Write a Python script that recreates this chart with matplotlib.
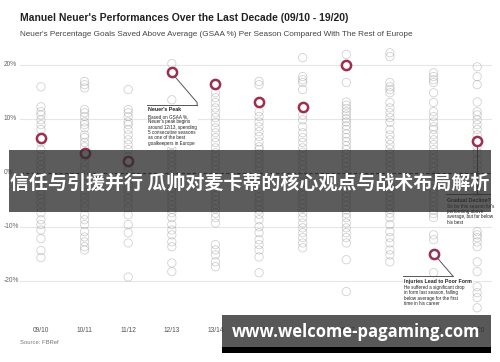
import numpy as np
import matplotlib
matplotlib.use("Agg")
import matplotlib.pyplot as plt
from matplotlib.patches import Rectangle
from matplotlib.transforms import blended_transform_factory

seasons = ["09/10", "10/11", "11/12", "12/13", "13/14", "14/15",
           "15/16", "16/17", "17/18", "18/19", "19/20"]

others_0910 = [15.9, 12.2, 11.3, 10.7, 9.8, 8.9, 8.0, 5.6, 4.3, 3.0, 2.2, 1.4, 0.6, -0.2, -1.0, -1.8,
               -2.5, -3.3, -4.0, -4.8, -5.6, -6.5, -7.4, -8.7, -9.6, -10.6, -12.2, -14.4, -15.7]
others_1011 = [16.9, 16.3, 15.7, 11.7, 11.1, 10.4, 9.4, 8.9, 8.3, 7.0, 6.5, 5.6, 4.8, 3.0, 2.1, 1.2,
               0.4, -0.5, -1.4, -2.2, -3.1, -3.9, -4.7, -5.6, -6.5, -7.8, -8.7, -9.6, -10.9, -11.9,
               -12.8, -13.7, -14.3]
others_1112 = [15.4, 11.7, 11.1, 10.4, 9.4, 8.9, 8.0, 7.0, 6.1, 5.2, 4.3, 3.0, 1.2, 0.3, -0.6, -1.5,
               -2.3, -3.2, -4.0, -4.8, -5.6, -6.5, -7.8, -9.6, -11.1, -13.0, -19.3]
others_1213 = [20.2, 13.5, 10.2, 8.6, 7.1, 5.2, 4.4, 3.6, 2.8, 2.0, 1.2, 0.4, -0.4, -1.2, -2.0, -2.8,
               -3.6, -4.4, -5.2, -6.0, -6.8, -7.4, -8.3, -9.6, -10.6, -11.5, -12.8, -13.7, -16.7, -18.3]
others_1314 = [14.8, 13.9, 13.0, 12.0, 11.1, 10.2, 9.3, 8.3, 7.4, 6.5, 5.6, 4.6, 3.7, 2.9, 2.1, 1.3,
               0.5, -0.3, -1.1, -1.9, -2.7, -3.5, -4.3, -5.1, -5.9, -6.7, -7.5, -8.3, -9.3, -13.3,
               -14.3, -15.2, -16.5, -17.4]
others_1415 = [16.9, 16.3, 11.3, 10.4, 9.4, 8.5, 7.6, 6.7, 5.7, 4.8, 4.3, 3.5, 2.7, 1.9, 1.1, 0.3,
               -0.5, -1.3, -2.1, -2.9, -3.7, -4.5, -5.3, -6.1, -6.9, -7.7, -8.7, -10.0, -11.1, -12.4,
               -13.3, -14.3, -15.6, -18.5]
others_1516 = [21.3, 17.8, 17.2, 16.7, 15.4, 10.7, 9.8, 8.5, 7.4, 6.5, 5.6, 4.6, 3.8, 3.0, 2.2, 1.4,
               0.6, -0.2, -1.0, -1.8, -2.6, -3.4, -4.2, -5.0, -5.8, -6.6, -7.4, -8.3, -9.3, -10.2,
               -11.1, -12.0, -13.0, -13.9]
others_1617 = [21.9, 16.7, 13.1, 12.5, 11.9, 11.3, 10.7, 10.0, 9.4, 8.7, 8.0, 7.2, 6.5, 5.8, 5.0, 4.3,
               3.5, 2.7, 1.9, 1.1, 0.3, -0.5, -1.3, -2.1, -2.9, -3.7, -4.5, -5.3, -6.1, -6.9, -7.6,
               -8.3, -9.3, -10.2, -11.1, -12.0, -13.0, -16.1, -22.0]
others_1718 = [22.2, 21.5, 16.7, 15.9, 15.4, 14.8, 13.0, 12.0, 11.1, 10.2, 9.3, 8.0, 7.0, 6.1, 5.2,
               4.4, 3.6, 2.8, 2.0, 1.2, 0.4, -0.4, -1.2, -2.0, -2.8, -3.6, -4.4, -5.2, -6.0, -6.8,
               -7.5, -8.3, -9.6, -10.9, -12.0, -13.0, -14.3, -15.2, -16.5]
others_1819 = [18.5, 17.8, 17.2, 16.7, 14.8, 13.0, 11.3, 10.4, 9.4, 8.5, 8.0, 7.0, 6.1, 5.2, 4.3, 3.4,
               2.6, 1.8, 1.0, 0.2, -0.6, -1.4, -2.2, -3.0, -3.8, -4.6, -5.4, -6.2, -7.0, -7.6, -8.3,
               -11.5, -12.4, -18.5]
others_1920 = [19.6, 17.8, 16.3, 13.1, 11.3, 10.7, 9.8, 8.9, 8.0, 7.0, 4.8, 3.7, 2.4, 1.5, 0.5, -0.5,
               -1.5, -2.5, -3.5, -4.5, -5.5, -6.5, -7.5, -10.9, -11.5, -12.0, -12.8, -13.7, -16.5,
               -18.3, -21.1, -22.2, -23.1, -25.0]
others = [others_0910, others_1011, others_1112, others_1213, others_1314, others_1415,
          others_1516, others_1617, others_1718, others_1819, others_1920]

neuer = [6.5, 3.7, 2.2, 18.7, 16.4, 13.1, 12.2, 20.0, np.nan, -15.0, 5.9]

yticks = [20, 10, 0, -10, -20]
ytick_labels = ["20%", "10%", "0%", "-10%", "-20%"]

title = "Manuel Neuer's Performances Over the Last Decade (09/10 - 19/20)"
subtitle = "Neuer's Percentage Goals Saved Above Average (GSAA %) Per Season Compared With The Rest of Europe"
banner_text = "信任与引援并行 瓜帅对麦卡蒂的核心观点与战术布局解析"
url_text = "www.welcome-pagaming.com"

RED = "#9c2f4e"
FONT = "Liberation Sans"

fig = plt.figure(figsize=(5, 3.62), dpi=100)
fig.patch.set_facecolor("white")
ax = fig.add_axes([0.04, 0.105, 0.944, 0.776])
ax.set_xlim(-0.48, 10.34)
ax.set_ylim(-28, 24)
for s in ax.spines.values():
    s.set_visible(False)

for y in [20, 10, -10, -20]:
    ax.axhline(y, color="#e6e6e6", lw=0.8, zorder=0)
ax.axhline(0, color="#333333", lw=0.8, ls=(0, (3, 2)), zorder=0)

for i, vals in enumerate(others):
    ax.scatter(np.full(len(vals), i), vals, s=36, facecolors="none",
               edgecolors="#999999", linewidths=0.6, alpha=0.45, zorder=2)

ax.scatter(np.arange(len(neuer)), neuer, s=44, facecolors="white",
           edgecolors=RED, linewidths=1.8, zorder=5)

ax.set_xticks(range(len(seasons)))
ax.set_xticklabels(seasons, fontsize=4.8, color="#555555", family=FONT)
ax.tick_params(axis="x", length=0, pad=2)
ax.set_yticks([])

ytr = blended_transform_factory(fig.transFigure, ax.transData)
for v, lab in zip(yticks, ytick_labels):
    ax.text(0.008, v, lab, transform=ytr, fontsize=4.8, color="#666666",
            ha="left", va="center", family=FONT)

fig.text(0.04, 0.95, title, fontsize=7.5, fontweight="bold", color="#222222",
         ha="left", va="center", family=FONT)
fig.text(0.04, 0.905, subtitle, fontsize=5.9, color="#444444",
         ha="left", va="center", family=FONT)
fig.text(0.04, 0.055, "Source: FBRef", fontsize=4.2, color="#777777",
         ha="left", va="center", family=FONT)

# Annotations
ann_kw = dict(family=FONT, color="#222222", ha="left", va="top", zorder=7)
# Neuer's peak
ax.plot([3.08, 3.58, 3.58], [17.7, 13.0, 12.6], color="#555555", lw=0.7, zorder=4)
ax.plot([2.43, 3.58], [12.6, 12.6], color="#555555", lw=0.7, zorder=4)
ax.text(2.45, 12.2, "Neuer's Peak", fontsize=3.8, fontweight="bold",
        bbox=dict(facecolor="white", edgecolor="none", pad=0.6), **ann_kw)
ax.text(2.45, 10.9, "Based on GSAA %,\nNeuer's peak begins\naround 12/13, spending\n"
        "5 consecutive seasons\nas one of the best\ngoalkeepers in Europe",
        fontsize=3.3, linespacing=1.1,
        bbox=dict(facecolor="white", edgecolor="none", pad=0.8), **ann_kw)
# Gradual decline
ax.plot([10.0, 10.0], [5.0, -4.0], color="#555555", lw=0.7, zorder=4)
ax.plot([9.29, 10.3], [-4.0, -4.0], color="#555555", lw=0.7, zorder=4)
ax.text(9.31, -4.6, "Gradual Decline?", fontsize=3.8, fontweight="bold",
        bbox=dict(facecolor="white", edgecolor="none", pad=0.6), **ann_kw)
ax.text(9.31, -5.8, "So far this season he's\nperforming above\naverage, but far below\nhis best",
        fontsize=3.3, linespacing=1.05,
        bbox=dict(facecolor="white", edgecolor="none", pad=0.8), **ann_kw)
# Injuries
ax.plot([9.1, 9.44], [-15.9, -19.1], color="#555555", lw=0.7, zorder=4)
ax.plot([8.3, 9.44], [-19.1, -19.1], color="#555555", lw=0.7, zorder=4)
ax.text(8.32, -19.6, "Injuries Lead to Poor Form", fontsize=3.8, fontweight="bold",
        bbox=dict(facecolor="white", edgecolor="none", pad=0.6), **ann_kw)
ax.text(8.32, -20.8, "He suffered a significant drop\nin form last season, falling\n"
        "below average for the first\ntime in his career",
        fontsize=3.3, linespacing=1.1,
        bbox=dict(facecolor="white", edgecolor="none", pad=0.8), **ann_kw)

# Overlay banners
fig.add_artist(Rectangle((0.018, 0.4144), 0.964, 0.171, transform=fig.transFigure,
                         facecolor="#2e2e2e", alpha=0.78, edgecolor="none", zorder=10))
fig.text(0.5, 0.494, banner_text, fontsize=13.7, fontweight="bold", color="white",
         ha="center", va="center", family=["Noto Sans CJK SC", "DejaVu Sans"], zorder=11)

fig.add_artist(Rectangle((0.444, 0.0414), 0.538, 0.0884, transform=fig.transFigure,
                         facecolor="#2e2e2e", alpha=0.8, edgecolor="none", zorder=10))
fig.add_artist(Rectangle((0.444, 0.0249), 0.538, 0.0166, transform=fig.transFigure,
                         facecolor="black", edgecolor="none", zorder=10))
fig.text(0.712, 0.082, url_text, fontsize=12, fontweight="bold", color="white",
         ha="center", va="center", family="Open Sans", zorder=11)

fig.savefig("out.png", dpi=100, facecolor="white")
